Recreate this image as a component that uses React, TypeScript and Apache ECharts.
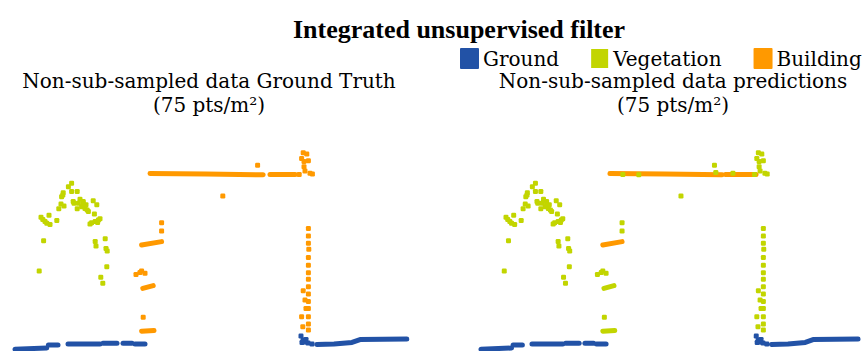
import React, { useEffect, useRef } from "react";
import * as echarts from "echarts";

// Units: metres along the profile (x) and height (y)
const groundSegs: number[][][] = [
  [[0.25, 0.2], [8.2, 0.5]],
  [[8.6, 1.25], [11, 1.25]],
  [[13.5, 1.5], [21.5, 1.5]],
  [[22.25, 1.7], [25.75, 1.7]],
  [[27.25, 1.7], [29.5, 1.7]],
  [[30.25, 1.5], [32.75, 1.5]],
  [[75.7, 1.4], [80, 1.5], [84.5, 1.9], [86.5, 2.6], [98.2, 2.75]],
];
const groundPts: number[][] = [
  [71.75, 3.5], [72.25, 2.5], [72.75, 2.0], [73.5, 1.75], [74.5, 1.5], [73.0, 2.6], [72.0, 1.9],
];

const treePts: number[][] = [
  [14.4, 41.7], [13.6, 40.8], [12.3, 39.3], [11.9, 38.3], [14.4, 39.6], [15.8, 39.6], [14.8, 37.1],
  [11.75, 36.5], [12.5, 36.0], [11.2, 35.3], [15.8, 35.3], [17.3, 37.1], [18.0, 36.3], [19.8, 37.3],
  [20.7, 36.3], [18.6, 34.6], [20.1, 34.0], [21.5, 32.8], [20.3, 32.1], [19.0, 31.5], [6.75, 33.2],
  [8.75, 33.7], [7.75, 32.1], [9.0, 31.4], [10.7, 32.4], [7.4, 27.3], [6.3, 19.75], [20.3, 27.1],
  [20.5, 26.0], [22.8, 27.8], [23.0, 25.4], [23.3, 24.75], [23.2, 20.8], [21.7, 18.2], [22.2, 16.7],
  [16.5, 37.7], [16.9, 35.8], [18.3, 35.0], [15.0, 36.7], [17.3, 36.7], [17.75, 35.4], [8.2, 31.7],
  [21.1, 32.5], [19.4, 31.8], [12.2, 38.75], [16.1, 36.7], [7.2, 32.6], [20.9, 31.9],
];

// Facade / balcony points: Building in ground truth, Vegetation in predictions
const facadePts: number[][] = [
  [36.9, 31.8], [36.9, 29.75], [30.5, 18.9], [31.9, 19.75], [32.75, 19.2], [32.3, 8.2], [31.5, 19.4],
];
const facadeSegs: number[][][] = [
  [[32.2, 15.4], [34.8, 16.1]],
  [[31.9, 4.7], [35.0, 4.9]],
];
const awningSeg: number[][][] = [[[31.9, 26.25], [36.9, 27.1]]];

const roofSegsTruth: number[][][] = [
  [[34.0, 44.1], [48.0, 44.0], [62.3, 43.8]],
  [[64.0, 43.9], [70.3, 43.9]],
];
const roofSegsPred: number[][][] = [
  [[33.75, 44.1], [48.0, 44.0], [62.9, 43.8]],
  [[63.75, 43.9], [71.7, 43.9]],
];
const roofStrayPts: number[][] = [[60.9, 46.2], [52.2, 38.5]];
const roofVegPred: number[][] = [[37.1, 43.9], [41.25, 43.8], [61.25, 44.4], [65.7, 44.2]];

const chimneyPts: number[][] = [
  [72.3, 49.3], [73.2, 49.0], [71.9, 47.9], [73.6, 47.3], [72.5, 47.1], [72.5, 45.8], [72.75, 44.75],
  [74.0, 44.2], [71.3, 43.9], [74.6, 44.0],
];
const wallPts: number[][] = [
  [73.6, 30.4], [73.6, 28.5], [73.6, 26.7], [73.7, 25.2], [73.6, 23.1], [73.6, 21.2], [73.6, 19.3],
  [73.6, 17.7], [73.6, 15.8], [73.6, 14.0], [73.6, 12.1], [73.6, 10.4], [73.6, 8.3], [73.6, 6.5],
  [73.6, 5.0], [72.3, 14.8], [72.75, 12.5], [73.0, 10.4], [71.9, 8.3], [72.2, 5.8],
];

const legendNames = ["Ground", "Vegetation", "Building"];
const colors = ["#2252A6", "#C2D500", "#FF9900"];
const panelTitles = ["Non-sub-sampled data Ground Truth", "Non-sub-sampled data predictions"];
const densityLabel = "(75 pts/m²)";
const chartTitle = "Integrated unsupervised filter";

const X_MAX = 100;
const Y_MAX = 50;

export default function App() {
  const ref = useRef<HTMLDivElement>(null);
  useEffect(() => {
    if (!ref.current) return;
    const chart = echarts.init(ref.current, undefined, { renderer: "svg" });
    const [cG, cV, cB] = colors;
    const seg = (name: string, color: string, segs: number[][][], idx: number) => ({
      type: "lines",
      name,
      coordinateSystem: "cartesian2d",
      xAxisIndex: idx,
      yAxisIndex: idx,
      polyline: true,
      silent: true,
      itemStyle: { color },
      lineStyle: { color, width: 5, opacity: 1, cap: "round", join: "round" },
      data: segs.map((c) => ({ coords: c })),
      z: 2,
    });
    const pts = (name: string, color: string, data: number[][], idx: number, z = 3) => ({
      type: "scatter",
      name,
      xAxisIndex: idx,
      yAxisIndex: idx,
      symbol: "roundRect",
      symbolSize: 5,
      itemStyle: { color, opacity: 1 },
      silent: true,
      data,
      z,
    });
    const font = "DejaVu Serif";
    const subtitles: any[] = [];
    [209, 673].forEach((cx, i) => {
      subtitles.push({
        type: "text",
        x: cx,
        y: 81,
        style: {
          text: panelTitles[i],
          font: `20px "${font}"`,
          fill: "#000",
          textAlign: "center",
          textVerticalAlign: "middle",
        },
      });
      subtitles.push({
        type: "text",
        x: cx,
        y: 105,
        style: {
          text: densityLabel,
          font: `20px "${font}"`,
          fill: "#000",
          textAlign: "center",
          textVerticalAlign: "middle",
        },
      });
    });
    chart.setOption({
      animation: false,
      backgroundColor: "#fff",
      graphic: [
        {
          type: "text",
          x: 459,
          y: 29,
          style: {
            text: chartTitle,
            font: `bold 26px "Liberation Serif"`,
            fill: "#000",
            textAlign: "center",
            textVerticalAlign: "middle",
          },
        },
        ...subtitles,
      ],
      legend: {
        left: 460,
        top: 48,
        width: 420,
        padding: 0,
        icon: "rect",
        itemWidth: 17,
        itemHeight: 19,
        itemGap: 32,
        selectedMode: false,
        textStyle: { fontFamily: font, fontSize: 20, color: "#000" },
        data: legendNames.map((n, i) => ({ name: n, itemStyle: { color: colors[i] } })),
      },
      grid: [
        { left: 14, top: 150, width: 400, height: 200 },
        { left: 480, top: 150, width: 400, height: 200 },
      ],
      xAxis: [0, 1].map((i) => ({ type: "value", gridIndex: i, min: 0, max: X_MAX, show: false })),
      yAxis: [0, 1].map((i) => ({ type: "value", gridIndex: i, min: 0, max: Y_MAX, show: false })),
      series: [
        // Ground truth panel
        seg("Ground", cG, groundSegs, 0),
        pts("Ground", cG, groundPts, 0),
        pts("Vegetation", cV, treePts, 0),
        seg("Building", cB, [...roofSegsTruth, ...awningSeg, ...facadeSegs], 0),
        pts("Building", cB, [...facadePts, ...roofStrayPts, ...chimneyPts, ...wallPts], 0),
        // Predictions panel
        seg("Ground", cG, groundSegs, 1),
        pts("Ground", cG, groundPts, 1),
        seg("Building", cB, [...roofSegsPred, ...awningSeg], 1),
        seg("Vegetation", cV, facadeSegs, 1),
        pts("Vegetation", cV, [...treePts, ...facadePts, ...roofStrayPts, ...chimneyPts, ...wallPts, ...roofVegPred], 1, 4),
      ],
    });
    return () => chart.dispose();
  }, []);
  return (
    <div
      ref={ref}
      style={{ position: "fixed", left: 0, top: 0, width: 865, height: 351, background: "#fff" }}
    />
  );
}
